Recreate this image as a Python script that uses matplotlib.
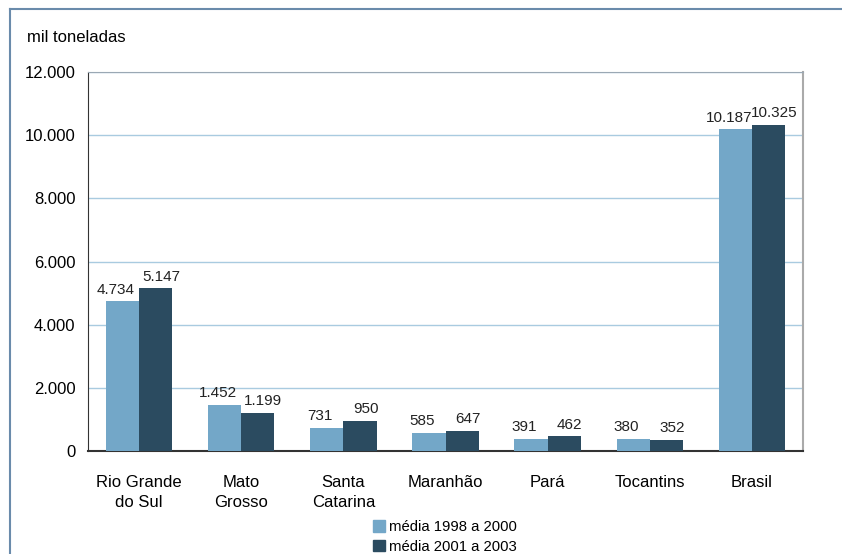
import numpy as np
import matplotlib.pyplot as plt
from matplotlib.lines import Line2D
from matplotlib.patches import Patch
from matplotlib.ticker import FuncFormatter

plt.rcParams['font.family'] = ['Liberation Sans', 'DejaVu Sans']

estados = ["Rio Grande\ndo Sul", "Mato\nGrosso", "Santa\nCatarina", "Maranhão",
           "Pará", "Tocantins", "Brasil"]
media_98_00 = [4734, 1452, 731, 585, 391, 380, 10187]
media_01_03 = [5147, 1199, 950, 647, 462, 352, 10325]
serie_labels = ["média 1998 a 2000", "média 2001 a 2003"]

cor_clara = "#73a7c8"
cor_escura = "#2b4b60"

def fmt_milhar(v):
    return "{:,.0f}".format(v).replace(",", ".")

fig = plt.figure(figsize=(8.42, 5.54), dpi=100)
ax = fig.add_axes([88 / 842, 1 - 451 / 554, (803 - 88) / 842, (451 - 72) / 554])

x = np.arange(len(estados))
w = 0.325
b1 = ax.bar(x - w / 2, media_98_00, w, color=cor_clara, zorder=3)
b2 = ax.bar(x + w / 2, media_01_03, w, color=cor_escura, zorder=3)

for bars, vals, dx in [(b1, media_98_00, -0.065), (b2, media_01_03, 0.055)]:
    for r, v in zip(bars, vals):
        ax.text(r.get_x() + r.get_width() / 2 + dx, v + 150, fmt_milhar(v),
                ha="center", va="bottom", fontsize=11, color="#222222")

ax.set_xlim(-0.5, len(estados) - 0.5)
ax.set_ylim(0, 12000)
ax.set_yticks(np.arange(0, 12001, 2000))
ax.yaxis.set_major_formatter(FuncFormatter(lambda v, p: fmt_milhar(v)))
ax.set_xticks(x)
ax.set_xticklabels(estados, fontsize=12, linespacing=1.45)
ax.tick_params(axis="y", length=0, pad=9, labelsize=12)
ax.tick_params(axis="x", length=0, pad=17)
ax.grid(axis="y", color="#a9cbe0", linewidth=1, zorder=0)

ax.spines["left"].set_color("#333333")
ax.spines["bottom"].set_color("#333333")
ax.spines["bottom"].set_linewidth(1.5)
ax.spines["top"].set_color("#9aa8b4")
ax.spines["right"].set_color("#aaaaaa")
ax.spines["right"].set_linewidth(1.5)

fig.text(27 / 842, 1 - 38 / 554, "mil toneladas", fontsize=12, va="center")

# moldura externa
fig.add_artist(Line2D([10 / 842, 10 / 842], [0, 1 - 9 / 554], color="#6a8bab",
                      linewidth=1.5, transform=fig.transFigure))
fig.add_artist(Line2D([10 / 842, 1], [1 - 9 / 554, 1 - 9 / 554], color="#6a8bab",
                      linewidth=1.5, transform=fig.transFigure))

handles = [Patch(color=cor_clara), Patch(color=cor_escura)]
fig.legend(handles, serie_labels, loc="center", bbox_to_anchor=(445 / 842, 1 - 537 / 554),
           frameon=False, fontsize=10.7, handlelength=0.8, handleheight=0.8,
           handletextpad=0.3, labelspacing=0.4)

fig.savefig("out.png", dpi=100)
